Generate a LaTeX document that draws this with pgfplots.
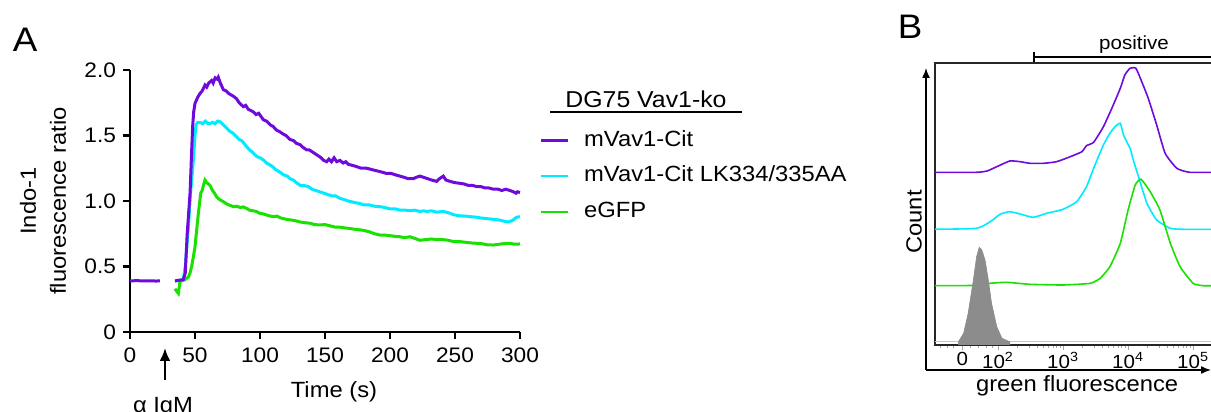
\documentclass[border=0pt]{standalone}
\usepackage{fontspec}
\setmainfont{Liberation Sans}[FakeStretch=1.08]
\usepackage{pgfplots}
\pgfplotsset{compat=1.18}
\usetikzlibrary{arrows.meta}
\definecolor{cpurple}{RGB}{110,10,220}
\definecolor{ccyan}{RGB}{0,235,255}
\definecolor{cgreen}{RGB}{25,225,0}
\begin{document}
\begin{tikzpicture}
\useasboundingbox (0,0) rectangle (605.5pt,206pt);
\clip (0,0) rectangle (605.5pt,206pt);
% ---------------- Panel A ----------------
\begin{axis}[
  at={(65pt,40pt)}, anchor=south west, scale only axis, width=195pt, height=131pt,
  xmin=0, xmax=300, ymin=0, ymax=2,
  axis x line=bottom, axis y line=left, axis line style={-, line width=1.1pt},
  xtick={0,50,100,150,200,250,300}, xticklabels={0,50,100,150,200,250,300},
  ytick={0,0.5,1,1.5,2}, yticklabels={0,0.5,1.0,1.5,2.0},
  tick align=outside, major tick length=3.5pt, tick style={line width=1.1pt, black},
  ticklabel style={font=\fontsize{10.5}{12}\selectfont},
  xticklabel style={yshift=-1pt},
  xlabel={Time (s)}, ylabel={Indo-1\\fluorescence ratio},
  label style={font=\fontsize{11}{15}\selectfont},
  xlabel style={at={(axis description cs:0.523,-0.228)},anchor=center},
  ylabel style={at={(axis description cs:-0.223,0.5)},anchor=center,align=center},
  unbounded coords=jump, clip=false,
  legend style={at={(axis description cs:1.0513,0.595)}, anchor=west, draw=none, fill=none,
    inner sep=0pt, outer sep=0pt, row sep=7.3pt,
    nodes={inner sep=0pt, text height=8pt, text depth=2.5pt},
    font=\fontsize{11}{13}\selectfont,
    /tikz/every odd column/.append style={column sep=7.5pt}},
  legend cell align=left,
  legend image code/.code={\draw[#1] (0pt,0pt) -- (13.5pt,0pt);},
]
\addplot[cgreen, line width=1.5pt, forget plot] coordinates {
(34.6,0.33)(36,0.31)(37.2,0.295)(38.5,0.385)(40,0.39)(42.3,0.40)(44.9,0.42)(46.2,0.45)(47.4,0.50)(48.7,0.57)(50,0.65)(51.3,0.78)(52.6,0.906)(54.4,1.06)(55.5,1.08)(56.5,1.12)(57.7,1.16)(59,1.14)(61.5,1.12)(63.5,1.08)(65,1.06)(66.7,1.03)(69,1.01)(71.8,0.995)(74,0.98)(76,0.97)(79.5,0.957)(82,0.96)(85,0.95)(87,0.955)(89.7,0.944)(92,0.93)(95,0.925)(97,0.92)(100,0.906)(103,0.90)(106,0.89)(110.3,0.88)(113,0.885)(116,0.87)(120.5,0.86)(124,0.855)(127,0.85)(130.8,0.84)(134,0.835)(138.5,0.83)(142,0.82)(146,0.817)(150,0.82)(154,0.81)(158,0.80)(161.5,0.80)(165,0.795)(169,0.79)(172,0.785)(176.9,0.78)(180,0.775)(184,0.765)(188,0.75)(192.3,0.74)(196,0.74)(200,0.735)(204,0.73)(207.7,0.727)(211,0.72)(215.4,0.727)(219,0.715)(223,0.70)(227,0.705)(232,0.71)(236,0.705)(241,0.705)(245,0.70)(249,0.69)(253.8,0.69)(258,0.685)(262,0.68)(266.7,0.677)(270,0.675)(275,0.665)(279.5,0.664)(284,0.67)(288,0.675)(292.3,0.677)(296,0.67)(300,0.672)};
\addplot[ccyan, line width=1.5pt, forget plot] coordinates {
(34.6,0.39)(41,0.40)(42.5,0.50)(44.9,0.80)(46.5,1.05)(48.7,1.31)(50,1.50)(50.8,1.58)(52,1.60)(53.8,1.60)(56,1.59)(58,1.61)(60,1.59)(61.5,1.59)(63.5,1.60)(65.5,1.59)(67.5,1.61)(69.2,1.605)(71,1.59)(72.5,1.575)(74.4,1.555)(77,1.53)(79,1.52)(82,1.49)(84,1.47)(86,1.46)(89.7,1.415)(92,1.39)(94.5,1.37)(97.4,1.34)(100,1.33)(103,1.31)(105,1.29)(107.7,1.275)(110,1.26)(112,1.24)(115.4,1.22)(118,1.20)(121,1.19)(123,1.17)(125.6,1.16)(128,1.14)(130.8,1.12)(133,1.12)(137.2,1.11)(140,1.09)(143,1.08)(146,1.07)(149,1.06)(152,1.05)(155,1.04)(158,1.04)(161.5,1.02)(165,1.01)(168,1.00)(172,0.99)(176.9,0.98)(180,0.97)(184,0.97)(188,0.96)(192.3,0.957)(196,0.95)(200,0.94)(204,0.94)(207.7,0.93)(212,0.93)(215.4,0.926)(219,0.93)(223,0.92)(226,0.925)(228.2,0.92)(232,0.925)(236,0.915)(241,0.92)(245,0.91)(249,0.895)(253.8,0.886)(258,0.885)(262,0.88)(266.7,0.876)(270,0.87)(275,0.865)(279.5,0.86)(284,0.855)(288,0.845)(291,0.84)(294,0.85)(297.4,0.876)(300,0.88)};
\addplot[cpurple, line width=1.5pt, forget plot] coordinates {
(0,0.39)(5,0.392)(10,0.39)(15,0.391)(20,0.389)(23,0.39)(28,nan)
(34.6,0.39)(38,0.395)(41,0.40)(42.5,0.45)(44,0.75)(46.2,1.06)(47.5,1.40)(48.2,1.57)(49,1.68)(50,1.745)(52,1.79)(53.8,1.82)(55.5,1.84)(57.7,1.885)(59,1.87)(60.5,1.90)(62.8,1.92)(64,1.90)(65.5,1.94)(67,1.93)(67.9,1.945)(69.5,1.90)(71.8,1.85)(74,1.84)(76,1.82)(79.5,1.80)(82,1.78)(84,1.75)(87.2,1.72)(89,1.73)(91,1.70)(93,1.69)(94.9,1.68)(97,1.66)(99,1.67)(102.6,1.62)(105,1.61)(108,1.58)(110,1.57)(112.8,1.54)(115,1.53)(118,1.51)(120,1.50)(123,1.47)(126,1.46)(128,1.44)(130.8,1.43)(133,1.41)(135.9,1.39)(138,1.39)(141,1.37)(144,1.35)(147,1.33)(149,1.31)(151.3,1.30)(153,1.32)(155,1.30)(157,1.33)(159,1.30)(161.5,1.31)(164,1.29)(166,1.30)(168,1.28)(171.8,1.27)(175,1.26)(178,1.25)(182,1.25)(186,1.24)(190,1.23)(194,1.22)(197.4,1.21)(201,1.21)(204,1.20)(207.7,1.19)(211,1.18)(214,1.17)(217.9,1.17)(220,1.18)(223,1.19)(226,1.18)(229,1.17)(232,1.16)(235.9,1.15)(238,1.17)(241,1.19)(243,1.16)(246,1.15)(250,1.14)(253.8,1.135)(257,1.13)(260,1.12)(263,1.12)(266.7,1.11)(270,1.11)(273,1.10)(276,1.10)(279.5,1.09)(283,1.09)(286,1.08)(289,1.09)(292.3,1.08)(295,1.07)(297,1.06)(298,1.07)(300,1.065)};
\addlegendimage{cpurple, line width=1.1pt}
\addlegendentry{mVav1-Cit}
\addlegendimage{ccyan, line width=1.1pt}
\addlegendentry{mVav1-Cit LK334/335AA}
\addlegendimage{cgreen, line width=1.1pt}
\addlegendentry{eGFP}
\end{axis}
% ---------------- Panel B ----------------
\begin{axis}[
  at={(467.5pt,33.5pt)}, anchor=south west, scale only axis, width=142.7pt, height=141pt,
  xmin=1.03, xmax=5.42, ymin=0, ymax=282,
  axis line style={black!85, line width=0.8pt},
  ytick=\empty, xtick={1.45,2,3,4,5},
  xticklabels={0,10\textsuperscript{2},10\textsuperscript{3},10\textsuperscript{4},10\textsuperscript{5}},
  minor xtick={1.12,1.22,1.32,1.58,1.70,1.82,1.92,2.301,2.477,2.602,2.699,2.778,2.845,2.903,2.954,3.301,3.477,3.602,3.699,3.778,3.845,3.903,3.954,4.301,4.477,4.602,4.699,4.778,4.845,4.903,4.954,5.301},
  tick align=outside, xtick pos=bottom, major tick length=2.5pt, minor tick length=1.5pt,
  tick style={gray!70, line width=0.5pt},
  ticklabel style={font=\fontsize{9.5}{11}\selectfont},
  xticklabel style={yshift=2.5pt},
  xlabel={green fluorescence}, ylabel={Count},
  label style={font=\fontsize{11}{13}\selectfont},
  xlabel style={at={(axis description cs:0.498,-0.143)},anchor=center},
  ylabel style={at={(axis description cs:-0.0736,0.436)},anchor=center},
]
\addplot[cpurple, line width=0.8pt, smooth, tension=0.3] coordinates {
(1.03,172.7)(1.67,172.7)(1.83,174)(1.98,178.3)(2.18,184)(2.34,183.3)(2.49,181.7)(2.70,181.7)(2.90,183.3)(3.11,188.3)(3.29,193.3)(3.36,199.3)(3.47,202.7)(3.62,218.3)(3.75,236.7)(3.88,256.7)(3.95,270)(4.03,276.7)(4.12,276.7)(4.21,263.3)(4.31,246.7)(4.44,220)(4.57,191.7)(4.75,176.7)(4.95,172.7)(5.42,172.7)};
\addplot[ccyan, line width=0.8pt, smooth, tension=0.3] coordinates {
(1.03,115.7)(1.67,116.7)(1.88,123.3)(2.03,130.7)(2.18,133.3)(2.34,131)(2.54,127.7)(2.75,131.7)(3.00,135.7)(3.21,143.3)(3.36,158.3)(3.47,176.7)(3.62,200)(3.72,211.7)(3.80,218.3)(3.88,221.7)(3.93,210)(4.03,196.7)(4.08,185)(4.16,168.3)(4.29,141.7)(4.44,125)(4.65,116.7)(4.85,115.7)(5.42,115.7)};
\addplot[cgreen, line width=0.8pt, smooth, tension=0.3] coordinates {
(1.03,59.3)(1.70,59.6)(1.88,61.7)(2.13,62.7)(2.49,60.7)(3.00,60)(3.42,61.7)(3.57,66.7)(3.72,78.3)(3.88,101.7)(4.00,135)(4.11,160)(4.20,165.7)(4.34,153.3)(4.49,135)(4.65,101.7)(4.80,78.3)(5.00,61.7)(5.16,59.3)(5.42,59.3)};
\addplot[gray!45, line width=0.5pt] coordinates {(1.03,3.3)(5.42,3.3)};
\addplot[draw=black!45, fill=black!45, line width=0.3pt] coordinates {
(1.39,3.3)(1.47,11.7)(1.54,31.7)(1.62,65)(1.67,88.3)(1.71,97.7)(1.75,95)(1.80,85)(1.85,65)(1.90,41.7)(1.98,18.3)(2.06,6.7)(2.18,3.3)} \closedcycle;
\end{axis}
% ---------------- annotations ----------------
\draw[line width=1.3pt, -{Latex[length=6.5pt,width=5.5pt]}] (82.5pt,16pt) -- (82.5pt,32pt);
\node[anchor=north, inner sep=0pt, font=\fontsize{11}{13}\selectfont] at (81.5pt,7.5pt) {α IgM};
\node[font=\fontsize{17}{20}\selectfont, inner sep=0pt] at (12.5pt,186pt) {A};
\node[font=\fontsize{17}{20}\selectfont, inner sep=0pt] at (455pt,192.5pt) {B};
\node[font=\fontsize{11.5}{13}\selectfont, inner sep=0pt] at (323pt,156.5pt) {DG75 Vav1-ko};
\draw[line width=0.6pt] (275pt,150pt) -- (371pt,150pt);
\draw[line width=0.6pt] (517pt,177.5pt) -- (610pt,177.5pt);
\draw[line width=0.6pt] (517pt,180pt) -- (517pt,175pt);
\node[font=\fontsize{9.5}{11}\selectfont, inner sep=0pt] at (567pt,183.5pt) {positive};
\draw[line width=0.7pt, -{Latex[length=5pt,width=4pt]}] (463pt,21pt) -- (463pt,172pt);
\draw[line width=0.7pt, -{Latex[length=5pt,width=4pt]}] (463pt,21pt) -- (605.5pt,21pt);
\end{tikzpicture}
\end{document}
